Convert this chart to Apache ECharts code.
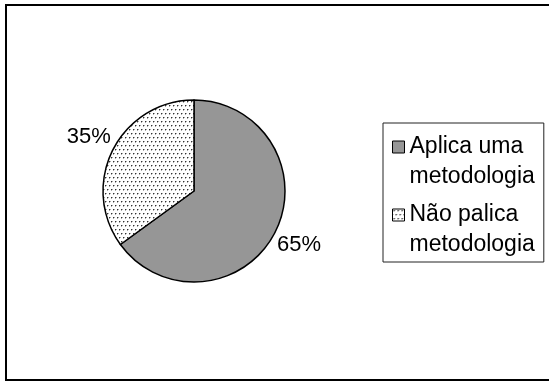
<!DOCTYPE html>
<html>
<head>
<meta charset="utf-8">
<script src="https://cdn.jsdelivr.net/npm/echarts@6/dist/echarts.min.js"></script>
<style>
html,body{margin:0;padding:0;background:#fff;}
#chart{width:549px;height:381px;}
</style>
</head>
<body>
<div id="chart"></div>
<script>
const categories = ['Aplica uma metodologia', 'Não palica metodologia'];
const legendLabels = ['Aplica uma\nmetodologia', 'Não palica\nmetodologia'];
const values = [65, 35];

function makeDots() {
  const c = document.createElement('canvas');
  c.width = 8; c.height = 8;
  const g = c.getContext('2d');
  g.fillStyle = '#fff';
  g.fillRect(0, 0, 8, 8);
  g.fillStyle = '#333';
  [[1,1],[5,1],[3,5],[7,5]].forEach(p => g.fillRect(p[0], p[1], 1, 1));
  g.fillStyle = '#aaa';
  [[2,1],[6,1],[4,5],[0,5],[1,2],[5,2],[3,6],[7,6]].forEach(p => g.fillRect(p[0], p[1], 1, 1));
  return c;
}

const fills = ['#969696', { image: makeDots(), repeat: 'repeat' }];
const font = "'Liberation Sans', Arial, sans-serif";

const chart = echarts.init(document.getElementById('chart'), null, { renderer: 'canvas' });
chart.setOption({
  backgroundColor: '#fff',
  animation: false,
  graphic: [{
    type: 'rect',
    shape: { x: 6, y: 5, width: 600, height: 375 },
    style: { fill: 'none', stroke: '#000', lineWidth: 2 },
    silent: true
  }],
  legend: {
    orient: 'vertical',
    left: 383,
    top: 123,
    padding: [9, 9, 2, 9],
    itemGap: 8,
    itemWidth: 12,
    itemHeight: 42,
    icon: 'path://M0,0L12,0L12,12L0,12ZM0,42',
    borderColor: '#222',
    borderWidth: 1,
    data: categories,
    formatter: function (name) { return legendLabels[categories.indexOf(name)]; },
    textStyle: { fontFamily: font, fontSize: 23, lineHeight: 30, color: '#000' },
    itemStyle: { borderColor: '#000', borderWidth: 1 }
  },
  series: [{
    type: 'pie',
    center: [194, 191],
    radius: 91,
    startAngle: 90,
    clockwise: true,
    avoidLabelOverlap: false,
    data: categories.map((n, i) => ({ name: n, value: values[i], itemStyle: { color: fills[i] } })),
    itemStyle: { borderColor: '#000', borderWidth: 1.5 },
    label: {
      show: true,
      position: 'outside',
      distanceToLabelLine: 0,
      formatter: function (p) { return Math.round(p.percent) + '%'; },
      fontFamily: font,
      fontSize: 22,
      color: '#000'
    },
    labelLine: { show: false, length: 27, length2: 0 },
    labelLayout: function () { return { align: 'center', verticalAlign: 'middle' }; },
    emphasis: { disabled: true }
  }]
});
</script>
</body>
</html>
